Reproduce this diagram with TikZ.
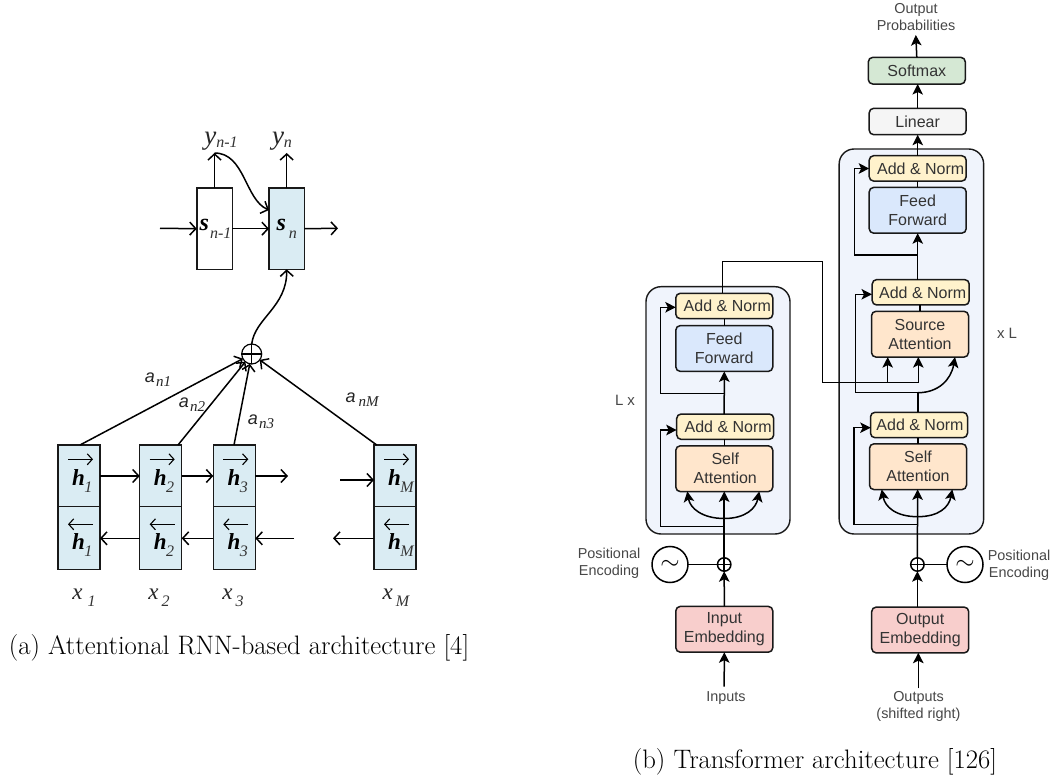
\documentclass[tikz,border=0pt]{standalone}
\usepackage{fontspec}
\usetikzlibrary{arrows.meta,calc}
\newfontfamily\arialf{Liberation Sans}
\newfontfamily\timesf{Liberation Serif}
\definecolor{cellblue}{HTML}{DAECF3}
\definecolor{stackfill}{HTML}{F0F4FC}
\definecolor{addfill}{HTML}{FFF2CC}
\definecolor{fffill}{HTML}{DAE8FC}
\definecolor{attfill}{HTML}{FFE6CC}
\definecolor{embfill}{HTML}{F8CECC}
\definecolor{softfill}{HTML}{D5E8D4}
\definecolor{linfill}{HTML}{F5F5F5}
\definecolor{inktext}{HTML}{333333}
\newcommand{\subt}[2][-7pt]{\raisebox{#1}{\color{black!80}\fontsize{16}{16}\selectfont\mdseries\itshape #2}}
\newcommand{\asub}[1]{{\timesf\fontsize{15}{15}\selectfont\raisebox{-4pt}{#1}}}
\tikzset{
  openarrow/.style={line width=1.5pt,-{Straight Barb[length=6pt,width=13pt,line width=1.5pt]}},
  plain/.style={line width=1.5pt},
  cell/.style={draw=black!90,line width=1.5pt,inner sep=0pt,outer sep=0pt,minimum width=42pt},
  scell/.style={cell,minimum width=35.5pt,minimum height=81.3pt,font=\timesf\fontsize{24}{24}\selectfont\bfseries\itshape},
  hcell/.style={cell,fill=cellblue},
  hlab/.style={inner sep=0pt,anchor=west,font=\timesf\fontsize{23}{23}\selectfont\bfseries\itshape},
  mlab/.style={inner sep=0pt,text=black!85,font=\timesf\fontsize{23}{23}\selectfont\itshape},
  alab/.style={inner sep=0pt,text=black!85,font=\arialf\fontsize{18}{18}\selectfont\itshape},
  stack/.style={draw=black!90,line width=1.4pt,fill=stackfill,rounded corners=15pt,inner sep=0pt,outer sep=0pt},
  blockb/.style={draw=black!90,line width=1.5pt,rounded corners=4.5pt,inner sep=0pt,outer sep=0pt,
     minimum width=97pt,text=inktext,align=center,font=\arialf\fontsize{16}{19}\selectfont},
  addb/.style={blockb,fill=addfill,minimum height=25.4pt},
  tall/.style={blockb,minimum height=45.8pt},
  small/.style={inner sep=0pt,text=inktext!90,align=center,font=\arialf\fontsize{14.4}{17}\selectfont},
  sarrow/.style={line width=1.5pt,-{Stealth[length=10.5pt,width=10.5pt,inset=2.5pt]}},
  wave/.style={draw=black,line width=1.5pt,circle,minimum size=36pt,inner sep=0pt,outer sep=0pt,font=\arialf\fontsize{26}{26}\selectfont},
  plusc/.style={draw=black,line width=1.5pt,circle,minimum size=13.4pt,inner sep=0pt,outer sep=0pt},
  captext/.style={inner sep=0pt,font=\fontsize{26.7}{30}\selectfont}
}
\newcommand{\hpair}[3]{%
  \node[hcell,minimum height=61.7pt] (#1u) at (#2,475.85) {};
  \node[hcell,minimum height=62.6pt] (#1d) at (#2,538) {};
  \node[hlab] (#1ul) at (#2-7,481) {h\hspace{-.5pt}\subt{#3}};
  \node[hlab] (#1dl) at (#2-7,545) {h\hspace{-.5pt}\subt{#3}};
  \draw[line width=1.1pt,-{Straight Barb[length=5pt,width=11pt,line width=1.1pt]}] (#2-11,459.3) -- (#2+14,459.3);
  \draw[line width=1.1pt,-{Straight Barb[length=5pt,width=11pt,line width=1.1pt]}] (#2+14,524.3) -- (#2-11,524.3);
}
\begin{document}
\begin{tikzpicture}[x=1pt,y=-1pt]
\useasboundingbox (0,0) rectangle (1053,778);
\fill[white] (0,0) rectangle (1053,778);

% ---------- (a) attentional RNN ----------
\node[scell] (sp) at (214.5,228.7) {\hspace{2pt}s\hspace{1pt}\subt[-8pt]{n-1}};
\node[scell,fill=cellblue] (sn) at (286.7,228.7) {s\hspace{3pt}\subt[-8pt]{n}};
\node[mlab,font=\timesf\fontsize{27}{27}\selectfont\itshape] (yp) at (221,141) {y\subt[-3pt]{n-1}};
\node[mlab,font=\timesf\fontsize{27}{27}\selectfont\itshape] (yn) at (282,141) {y\subt[-3pt]{n}};
\coordinate (ypt) at (214.5,153);
\coordinate (ynt) at (286.7,153);
\coordinate (sin) at (160,228.3);
\coordinate (sout) at (338,228.3);
\coordinate (skip) at (269,210);
\draw[openarrow] (sp.north) -- (ypt);
\draw[openarrow] (sn.north) -- (ynt);
\draw[openarrow] (sin) -- (sp.west);
\draw[openarrow] (sp.east) -- (sn.west);
\draw[openarrow] (sn.east) -- (sout);
\draw[openarrow] (ypt) .. controls (245,153) and (245,200) .. (skip);

\hpair{a}{79}{1}
\hpair{b}{160.7}{2}
\hpair{c}{234.3}{3}
\hpair{d}{395}{M}

\node[draw=black,line width=1.2pt,circle,minimum size=20pt,inner sep=0pt,outer sep=0pt] (sum) at (251.7,354) {};
\draw[line width=1.2pt] (sum.north) -- (sum.south) (sum.west) -- (sum.east);
\draw[openarrow] (sum.north) .. controls (255,318) and (287,307) .. (sn.south);
\coordinate (p1) at (80,445);
\coordinate (p2) at (178,445);
\coordinate (p3) at (234,445);
\coordinate (p4) at (376.7,445);
\draw[openarrow] (p1) -- (sum);
\draw[openarrow] (p2) -- (sum);
\draw[openarrow] (p3) -- (sum);
\draw[openarrow] (p4) -- (sum);

\coordinate (au) at (100,476);
\coordinate (bu) at (139.7,476);
\coordinate (bu2) at (181.7,476);
\coordinate (cu) at (213.3,476);
\coordinate (cu2) at (255.3,476);
\coordinate (cfree) at (288,476);
\coordinate (dfree) at (340,480);
\coordinate (du) at (374,480);
\draw[openarrow] (au) -- (bu);
\draw[openarrow] (bu2) -- (cu);
\draw[openarrow] (cu2) -- (cfree);
\draw[openarrow] (dfree) -- (du);
\coordinate (ad) at (100,538.3);
\coordinate (bd) at (139.7,538.3);
\coordinate (bd2) at (181.7,538.3);
\coordinate (cd) at (213.3,538.3);
\coordinate (cd2) at (255.3,538.3);
\coordinate (cfree2) at (294,538.3);
\coordinate (dfree2) at (333,538.3);
\coordinate (dd) at (374,538.3);
\draw[openarrow] (bd) -- (ad);
\draw[openarrow] (cd) -- (bd2);
\draw[openarrow] (cfree2) -- (cd2);
\draw[openarrow] (dd) -- (dfree2);

\node[alab] (a1) at (158,380) {a\hspace{1pt}\asub{n1}};
\node[alab] (a2) at (192,405) {a\hspace{1pt}\asub{n2}};
\node[alab] (a3) at (261,422) {a\hspace{1pt}\asub{n3}};
\node[alab] (aM) at (362,400) {a\hspace{3pt}\asub{nM}};

\node[mlab] (x1) at (84,598) {x\hspace{5pt}\subt{1}};
\node[mlab] (x2) at (159,598) {x\hspace{3pt}\subt{2}};
\node[mlab] (x3) at (233,598) {x\hspace{3pt}\subt{3}};
\node[mlab] (xM) at (396,598) {x\hspace{3pt}\subt{M}};

\node[captext] (capa) at (239,648) {(a) Attentional RNN-based architecture [4]};

% ---------- (b) transformer ----------
\node[stack,minimum width=144pt,minimum height=247.3pt] (lstack) at (718,410.35) {};
\node[stack,minimum width=144.5pt,minimum height=385pt] (rstack) at (911.4,341.5) {};

\node[addb] (lan2) at (724.3,306) {\hspace{6pt}Add \& Norm};
\node[tall,fill=fffill] (lff) at (724.3,348.5) {Feed\\Forward};
\node[addb] (lan1) at (725.2,426.7) {\hspace{6pt}Add \& Norm};
\node[tall,fill=attfill] (lsa) at (724.3,468.7) {\hspace{2pt}Self\\\hspace{2pt}Attention};
\node[tall,fill=embfill] (lie) at (724.3,629.3) {Input\\Embedding};

\node[addb,fill=softfill,minimum height=26.7pt] (soft) at (916.8,70.7) {Softmax};
\node[addb,fill=linfill,minimum height=26.4pt] (lin) at (917.7,121.5) {Linear};
\node[addb] (ran3) at (917.7,168.4) {\hspace{6pt}Add \& Norm};
\node[tall,fill=fffill] (rff) at (917.7,210.3) {Feed\\Forward};
\node[addb] (ran2) at (920.7,292.3) {\hspace{4pt}Add \& Norm};
\node[tall,fill=attfill] (rsa) at (920,334.2) {Source\\Attention};
\node[addb] (ran1) at (919,425) {\hspace{2pt}Add \& Norm};
\node[tall,fill=attfill] (rsb) at (918,466.7) {Self\\Attention};
\node[tall,fill=embfill] (roe) at (920.2,630) {Output\\Embedding};

\node[small] (oprob) at (916,17) {Output\\Probabilities};
\node[small] (inp) at (726,698) {Inputs};
\node[small] (outp) at (918.5,706.5) {Outputs\\(shifted right)};
\node[small] (pel) at (609,563.5) {Positional\\Encoding};
\node[small] (per) at (1019,565) {Positional\\Encoding};
\node[small,font=\arialf\fontsize{15}{15}\selectfont] (lx) at (625,400) {L x};
\node[small,font=\arialf\fontsize{15}{15}\selectfont] (xl) at (1007,333) {x L};

\node[wave] (wl) at (670,564.5) {$\sim$};
\node[wave] (wr) at (965,564.5) {$\sim$};
\node[plusc] (pl) at (724.2,564.5) {};
\node[plusc] (pr) at (917.4,564.5) {};
\draw[plain] (pl.north) -- (pl.south) (pl.west) -- (pl.east);
\draw[plain] (pr.north) -- (pr.south) (pr.west) -- (pr.east);
\draw[plain] (wl.east) -- (pl.west);
\draw[plain] (wr.west) -- (pr.east);

% encoder connectors
\coordinate (infree) at (724.2,686.7);
\draw[sarrow] (infree) -- (lie.south);
\draw[sarrow] (lie.north) -- (pl.south);
\coordinate (lbot) at (724.2,491.4);
\draw[sarrow] (pl.north) -- (lbot);
\coordinate (lcurve) at (724.2,518.5);
\coordinate (la1) at (687.3,491.4);
\coordinate (la3) at (759.3,491.4);
\draw[sarrow] (lcurve) .. controls (702,518.5) and (690,508) .. (la1);
\draw[sarrow] (lcurve) .. controls (746,518.5) and (756,508) .. (la3);
\coordinate (lres1) at (724.2,526.7);
\coordinate (lres1b) at (660.7,526.7);
\coordinate (lres1c) at (660.7,430);
\coordinate (lres1d) at (676.7,430);
\draw[sarrow] (lres1) -- (lres1b) -- (lres1c) -- (lres1d);
\draw[plain] (lsa.north) -- (lsa.north |- lan1.south);
\coordinate (lffb) at (724.2,414);
\draw[sarrow] (lffb) -- (lff.south);
\coordinate (lres2) at (724.2,393.3);
\coordinate (lres2b) at (660.7,393.3);
\coordinate (lres2c) at (660.7,307.3);
\coordinate (lres2d) at (675.8,307.3);
\draw[sarrow] (lres2) -- (lres2b) -- (lres2c) -- (lres2d);
\draw[plain] (lff.north) -- (lff.north |- lan2.south);
% encoder to decoder
\coordinate (e0) at (722.3,293.3);
\coordinate (e1) at (722.3,261.7);
\coordinate (e2) at (822.3,261.7);
\coordinate (e3) at (822.3,382.7);
\coordinate (e4) at (918.3,382.7);
\coordinate (e5) at (918.3,357.1);
\coordinate (e6) at (887.7,382.7);
\coordinate (e7) at (887.7,357.1);
\draw[sarrow] (e0) -- (e1) -- (e2) -- (e3) -- (e4) -- (e5);
\draw[sarrow] (e6) -- (e7);

% decoder connectors
\coordinate (outfree) at (918.3,688.3);
\coordinate (roet) at (917.4,607.3);
\coordinate (roeb) at (918.3,652.7);
\draw[sarrow] (outfree) -- (roeb);
\draw[sarrow] (roet) -- (pr.south);
\coordinate (rbot) at (917.6,489.4);
\draw[sarrow] (pr.north) -- (rbot);
\coordinate (rcurve) at (917.6,516.7);
\coordinate (ra1) at (881.7,489.4);
\coordinate (ra3) at (952.3,489.4);
\draw[sarrow] (rcurve) .. controls (896,516.7) and (885,507) .. (ra1);
\draw[sarrow] (rcurve) .. controls (939,516.7) and (949,507) .. (ra3);
\coordinate (rr1) at (917.6,524.3);
\coordinate (rr1b) at (854,524.3);
\coordinate (rr1c) at (854,427.7);
\coordinate (rr1d) at (870.7,427.7);
\draw[sarrow] (rr1) -- (rr1b) -- (rr1c) -- (rr1d);
\draw[plain] (rsb.north) -- (rsb.north |- ran1.south);
\coordinate (rm0) at (918,412.3);
\coordinate (rm1) at (918,392.7);
\coordinate (rm2) at (855.7,392.7);
\coordinate (rm3) at (855.7,294.3);
\coordinate (rm4) at (872,294.3);
\coordinate (rm5) at (955,357.1);
\draw[plain] (rm0) -- (rm1);
\draw[sarrow] (rm1) -- (rm2) -- (rm3) -- (rm4);
\draw[sarrow] (rm1) .. controls (938,392.7) and (951,380) .. (rm5);
\draw[plain] (rsa.north) -- (rsa.north |- ran2.south);
\coordinate (ru0) at (917.7,279.6);
\coordinate (ru1) at (917.7,255);
\coordinate (ru2) at (854.6,255);
\coordinate (ru3) at (854.6,168.5);
\coordinate (ru4) at (869.2,168.5);
\draw[sarrow] (ru0) -- (ru1) -- (rff.south);
\draw[sarrow] (ru1) -- (ru2) -- (ru3) -- (ru4);
\draw[plain] (rff.north) -- (ran3.south);
\draw[sarrow] (ran3.north) -- (lin.south);
\draw[sarrow] (lin.north) -- (lin.north |- soft.south);
\coordinate (opt) at (915.8,35);
\draw[sarrow] (soft.north) -- (opt);

\node[captext] (capb) at (815,762) {(b) Transformer architecture [126]};
\end{tikzpicture}
\end{document}
